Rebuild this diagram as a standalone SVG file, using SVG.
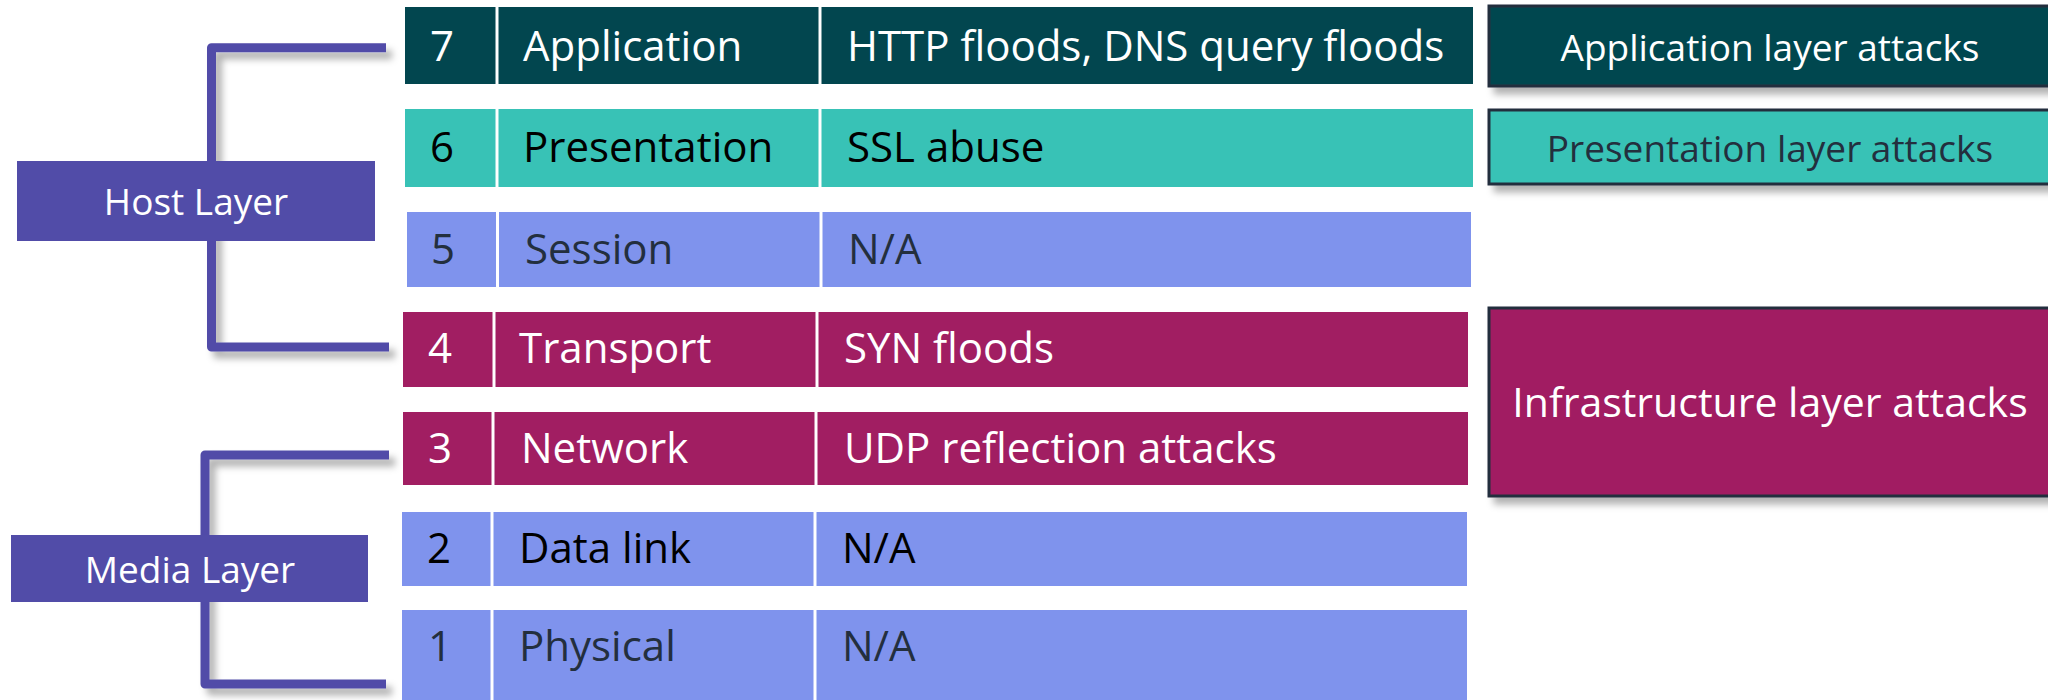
<svg xmlns="http://www.w3.org/2000/svg" width="2048" height="700" viewBox="0 0 2048 700">
<style>
.t{font-family:"Open Sans","Noto Sans","Liberation Sans",sans-serif;font-size:42px}
.w{fill:#ffffff}
.k{fill:#000000}
.n{fill:#232F3E}
.div{stroke:#ffffff;stroke-width:3}
.lbl{font-family:"Open Sans","Noto Sans","Liberation Sans",sans-serif;font-size:37px;text-anchor:middle}
.rb{stroke:#232F3E;stroke-width:3}
.br{fill:none;stroke:#514BA8;stroke-width:9;stroke-linejoin:round}
</style>
<defs>
<filter id="sh" x="-10%" y="-10%" width="130%" height="140%">
<feDropShadow dx="6" dy="7" stdDeviation="3.5" flood-color="#000" flood-opacity="0.3"/>
</filter>
</defs>
<rect width="2048" height="700" fill="#ffffff"/>

<g id="connectors">
<path class="br" filter="url(#sh)" d="M386 47.7H211.5V347H389"/>
<path class="br" filter="url(#sh)" d="M389 455H205V684H386"/>
</g>

<g id="host-layer">
<rect x="17" y="161" width="358" height="80" fill="#514CA8"/>
<text class="lbl w" x="196" y="215">Host Layer</text>
</g>
<g id="media-layer">
<rect x="11" y="535" width="357" height="67" fill="#514CA8"/>
<text class="lbl w" x="190" y="583">Media Layer</text>
</g>

<g id="row7">
<rect x="405" y="7" width="1068" height="77" fill="#02464F"/>
<line class="div" x1="497" y1="7" x2="497" y2="84"/>
<line class="div" x1="820" y1="7" x2="820" y2="84"/>
<text class="t w" x="430" y="61">7</text>
<text class="t w" x="523" y="61">Application</text>
<text class="t w" x="847" y="61">HTTP floods, DNS query floods</text>
</g>
<g id="row6">
<rect x="405" y="109" width="1068" height="78" fill="#38C2B6"/>
<line class="div" x1="497" y1="109" x2="497" y2="187"/>
<line class="div" x1="820" y1="109" x2="820" y2="187"/>
<text class="t k" x="430" y="162">6</text>
<text class="t k" x="523" y="162">Presentation</text>
<text class="t k" x="847" y="162">SSL abuse</text>
</g>
<g id="row5">
<rect x="407" y="212" width="1064" height="75" fill="#7F93ED"/>
<line class="div" x1="497.5" y1="212" x2="497.5" y2="287"/>
<line class="div" x1="821" y1="212" x2="821" y2="287"/>
<text class="t n" x="431" y="264">5</text>
<text class="t n" x="525" y="264">Session</text>
<text class="t n" x="848" y="264">N/A</text>
</g>
<g id="row4">
<rect x="403" y="312" width="1065" height="75" fill="#A11E62"/>
<line class="div" x1="494" y1="312" x2="494" y2="387"/>
<line class="div" x1="817" y1="312" x2="817" y2="387"/>
<text class="t w" x="428" y="363">4</text>
<text class="t w" x="519" y="363">Transport</text>
<text class="t w" x="844" y="363">SYN floods</text>
</g>
<g id="row3">
<rect x="403" y="412" width="1065" height="73" fill="#A11E62"/>
<line class="div" x1="493" y1="412" x2="493" y2="485"/>
<line class="div" x1="816" y1="412" x2="816" y2="485"/>
<text class="t w" x="428" y="463">3</text>
<text class="t w" x="521" y="463">Network</text>
<text class="t w" x="844" y="463">UDP reflection attacks</text>
</g>
<g id="row2">
<rect x="402" y="512" width="1065" height="74" fill="#7F93ED"/>
<line class="div" x1="492" y1="512" x2="492" y2="586"/>
<line class="div" x1="815" y1="512" x2="815" y2="586"/>
<text class="t k" x="427" y="563">2</text>
<text class="t k" x="519" y="563">Data link</text>
<text class="t k" x="842" y="563">N/A</text>
</g>
<g id="row1">
<rect x="402" y="610" width="1065" height="92" fill="#7F93ED"/>
<line class="div" x1="492" y1="610" x2="492" y2="702"/>
<line class="div" x1="815" y1="610" x2="815" y2="702"/>
<text class="t n" x="428" y="661">1</text>
<text class="t n" x="519" y="661">Physical</text>
<text class="t n" x="842" y="661">N/A</text>
</g>

<g id="app-attacks">
<rect class="rb" x="1489" y="6" width="562" height="80" fill="#02464F" filter="url(#sh)"/>
<text class="lbl w" x="1770" y="61">Application layer attacks</text>
</g>
<g id="pres-attacks">
<rect class="rb" x="1489" y="110" width="562" height="74" fill="#38C2B6" filter="url(#sh)"/>
<text class="lbl n" x="1770" y="162">Presentation layer attacks</text>
</g>
<g id="infra-attacks">
<rect class="rb" x="1489" y="308" width="562" height="188" fill="#A11E62" filter="url(#sh)"/>
<text class="lbl w" x="1770" y="417" style="font-size:41px">Infrastructure layer attacks</text>
</g>
</svg>
